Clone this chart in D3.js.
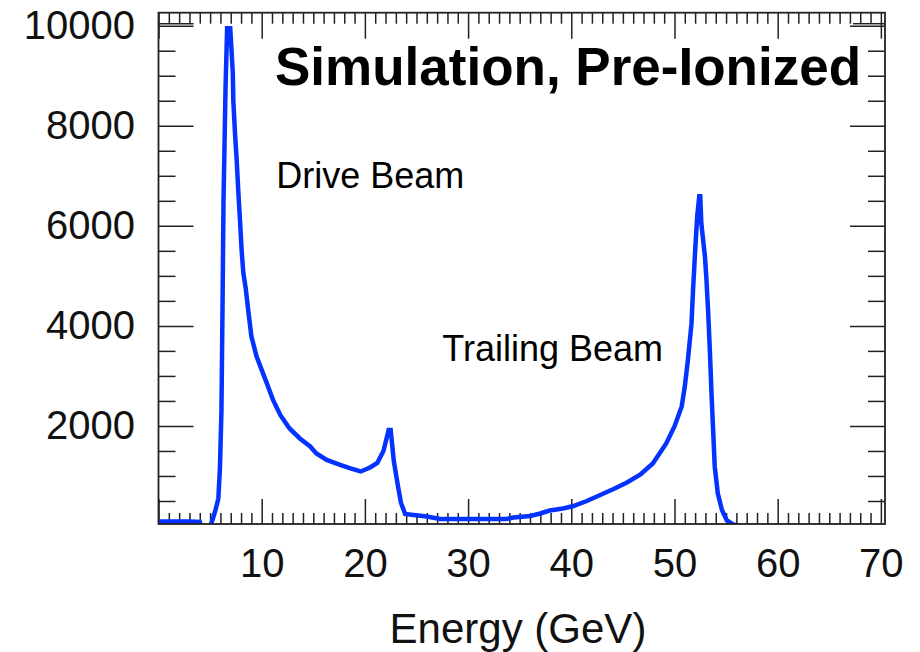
<!DOCTYPE html>
<html lang="en">
<head>
    <meta charset="UTF-8">
    <title>Simulation, Pre-Ionized</title>
    <script src="https://d3js.org/d3.v7.min.js"></script>
    <style>
        body {
            margin: 0;
            padding: 0;
            background: #fff;
            font-family: "Liberation Sans", Arial, Helvetica, sans-serif;
        }
        .tick line {
            stroke: #222;
            stroke-width: 1.5px;
        }
        .tick text {
            font-family: "Liberation Sans", Arial, Helvetica, sans-serif;
            font-size: 40px;
            fill: #111;
        }
    </style>
</head>
<body>
    <svg width="920" height="652"></svg>
    <script>
        // Energy spectrum (GeV) and counts
        const energy = [
            0.0, 1.0, 2.0, 3.0, 4.0, 4.1, 5.0, 5.2, 5.5, 5.8, 5.95, 6.1, 6.2, 6.3, 6.5, 6.65,
            6.95, 7.05, 7.2, 7.25, 7.4, 7.58, 7.73, 7.9, 8.06, 8.22, 8.45, 8.7, 9.0, 9.5,
            10.0, 10.5, 11.1, 11.8, 12.7, 13.7, 14.7, 15.3, 16.3, 17.6, 18.6, 19.6, 20.5,
            21.2, 21.8, 22.3, 22.5, 22.8, 23.2, 23.5, 23.9, 24.7, 26.0, 27.3, 30.0, 33.7,
            34.4, 36.0, 37.0, 37.9, 39.2, 40.2, 41.5, 42.8, 44.1, 45.4, 46.7, 47.9, 49.2,
            50.0, 50.7, 51.0, 51.3, 51.65, 51.8, 52.0, 52.2, 52.4, 52.5, 52.6, 52.95, 53.1,
            53.27, 53.44, 53.6, 53.76, 53.9, 54.2, 54.6, 55.05, 55.7, 56.5, 70.0
        ];
        const counts = [
            90, 90, 90, 90, 80, 0, 0, 100, 300, 550, 1150, 2300, 4300, 6500, 8800, 9950,
            9950, 9600, 9050, 8500, 7900, 7300, 6700, 6100, 5500, 5060, 4750, 4300, 3790, 3390,
            3120, 2850, 2520, 2220, 1950, 1750, 1590, 1450, 1320, 1220, 1150, 1090, 1170,
            1260, 1500, 1920, 1920, 1300, 800, 460, 240, 220, 190, 140, 140, 140,
            170, 200, 250, 310, 350, 400, 500, 620, 740, 870, 1030, 1250, 1650,
            1990, 2390, 2790, 3320, 4050, 4720, 5490, 6190, 6590, 6590, 6050, 5390, 4920,
            4250, 3450, 2590, 1850, 1190, 650, 320, 120, 30, 0, 0
        ];

        const xMajor = [0, 10, 20, 30, 40, 50, 60, 70];
        const xLabels = [10, 20, 30, 40, 50, 60, 70];
        const yMajor = [2000, 4000, 6000, 8000, 10000];

        const title = "Simulation, Pre-Ionized";
        const notes = [
            { text: "Drive Beam", e: 11.4, v: 6750 },
            { text: "Trailing Beam", e: 27.5, v: 3300 }
        ];

        const svg = d3.select("svg");
        const pL = 158.5, pR = 885, pT = 12.7, pB = 524;

        const x = d3.scaleLinear().domain([0, 70.4]).range([pL, pR]);
        const y = d3.scaleLinear().domain([40, 10260]).range([pB, pT]);

        // clip for the curve
        svg.append("defs").append("clipPath")
            .attr("id", "plot-clip")
            .append("rect")
            .attr("x", pL).attr("y", pT)
            .attr("width", pR - pL).attr("height", pB - pT);

        // minor ticks (no labels)
        const xMinor = d3.range(0, 71, 1).filter(d => d % 10 !== 0);
        const yMinor = d3.range(500, 10001, 500).filter(d => d % 2000 !== 0);

        svg.append("g").attr("transform", `translate(0,${pB})`)
            .call(d3.axisBottom(x).tickValues(xMinor).tickSizeInner(-11).tickSizeOuter(0).tickFormat(""))
            .call(g => g.select(".domain").remove());
        svg.append("g").attr("transform", `translate(0,${pT})`)
            .call(d3.axisTop(x).tickValues(xMinor).tickSizeInner(-11).tickSizeOuter(0).tickFormat(""))
            .call(g => g.select(".domain").remove());
        svg.append("g").attr("transform", `translate(${pL},0)`)
            .call(d3.axisLeft(y).tickValues(yMinor).tickSizeInner(-17).tickSizeOuter(0).tickFormat(""))
            .call(g => g.select(".domain").remove());
        svg.append("g").attr("transform", `translate(${pR},0)`)
            .call(d3.axisRight(y).tickValues(yMinor).tickSizeInner(-17).tickSizeOuter(0).tickFormat(""))
            .call(g => g.select(".domain").remove());

        // major ticks
        svg.append("g").attr("transform", `translate(0,${pB})`)
            .call(d3.axisBottom(x).tickValues(xMajor).tickSizeInner(-25).tickSizeOuter(0).tickPadding(25)
                .tickFormat(d => xLabels.includes(d) ? d : ""))
            .call(g => g.select(".domain").remove());
        svg.append("g").attr("transform", `translate(0,${pT})`)
            .call(d3.axisTop(x).tickValues(xMajor).tickSizeInner(-26).tickSizeOuter(0).tickFormat(""))
            .call(g => g.select(".domain").remove());
        svg.append("g").attr("transform", `translate(${pL},0)`)
            .call(d3.axisLeft(y).tickValues(yMajor).tickSizeInner(-35).tickSizeOuter(0).tickPadding(23.5)
                .tickFormat(d3.format("d")))
            .call(g => g.select(".domain").remove());
        svg.append("g").attr("transform", `translate(${pR},0)`)
            .call(d3.axisRight(y).tickValues(yMajor).tickSizeInner(-35).tickSizeOuter(0).tickFormat(""))
            .call(g => g.select(".domain").remove());

        // little bars joining tick tips at the top corners
        svg.append("g").attr("stroke", "#222").attr("stroke-width", 1.5)
            .selectAll("line")
            .data([[0, 3.4], [67.3, 70.4]])
            .join("line")
            .attr("x1", d => x(d[0])).attr("x2", d => x(d[1]))
            .attr("y1", pT + 11).attr("y2", pT + 11);

        // spectrum
        const line = d3.line().x((d, i) => x(energy[i])).y(d => y(d));
        svg.append("path")
            .datum(counts)
            .attr("clip-path", "url(#plot-clip)")
            .attr("fill", "none")
            .attr("stroke", "#0433ff")
            .attr("stroke-width", 4.5)
            .attr("stroke-linejoin", "miter")
            .attr("d", line);

        // frame
        svg.append("rect")
            .attr("x", pL).attr("y", pT)
            .attr("width", pR - pL).attr("height", pB - pT)
            .attr("fill", "none")
            .attr("stroke", "#222")
            .attr("stroke-width", 1.8);

        // texts
        svg.append("text")
            .attr("x", 275).attr("y", 85)
            .attr("font-size", 53)
            .attr("font-weight", "bold")
            .text(title);

        svg.append("g").selectAll("text")
            .data(notes)
            .join("text")
            .attr("x", d => x(d.e))
            .attr("y", d => y(d.v))
            .attr("font-size", 36)
            .text(d => d.text);

        svg.append("text")
            .attr("x", 518).attr("y", 643)
            .attr("text-anchor", "middle")
            .attr("font-size", 42)
            .attr("fill", "#111")
            .text("Energy (GeV)");
    </script>
</body>
</html>
